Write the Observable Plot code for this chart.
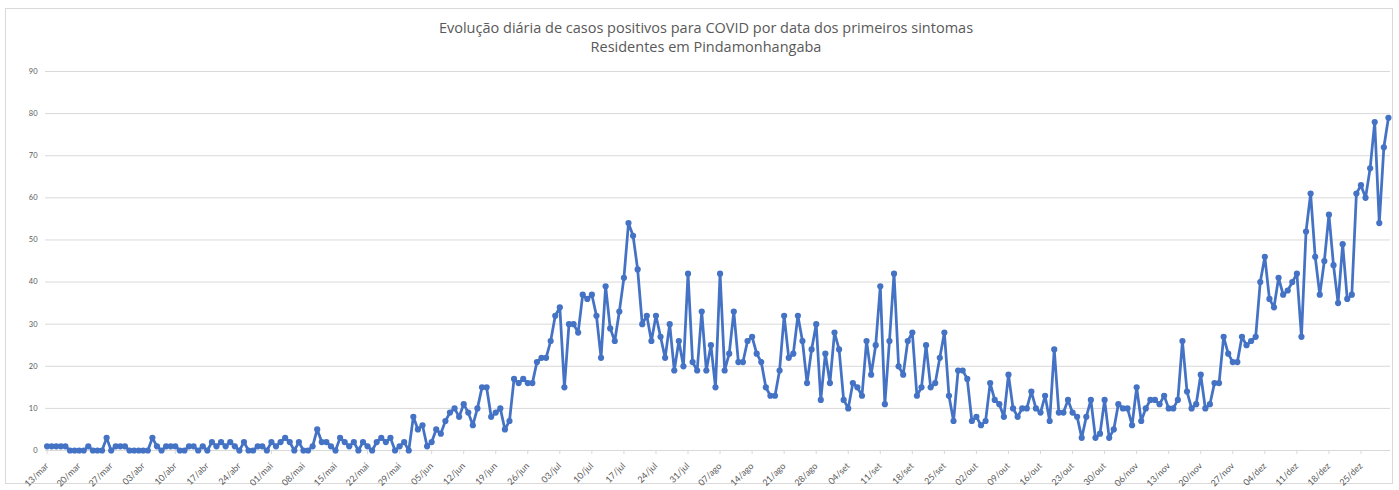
<!DOCTYPE html>
<html>
<head>
<meta charset="utf-8">
<script src="https://cdn.jsdelivr.net/npm/d3@7"></script>
<script src="https://cdn.jsdelivr.net/npm/@observablehq/plot@0.6"></script>
<style>
  html, body { margin: 0; padding: 0; background: #fff; }
  #page { position: relative; width: 1399px; height: 490px; overflow: hidden; font-family: Lato, "Open Sans", sans-serif; }
  #frame { position: absolute; left: 5px; top: 8px; width: 1388px; height: 476px; border: 1px solid #d9d9d9; box-sizing: border-box; }
  .title { position: absolute; left: 0; width: 1412px; text-align: center; color: #595959; font-family: "Open Sans", sans-serif; font-size: 14.5px; line-height: 17px; }
  #t1 { top: 19px; }
  #t2 { top: 38px; }
  #plot { position: absolute; left: 0; top: 60px; }
</style>
</head>
<body>
<div id="page">
  <div id="frame"></div>
  <div class="title" id="t1">Evolução diária de casos positivos para COVID por data dos primeiros sintomas</div>
  <div class="title" id="t2">Residentes em Pindamonhangaba</div>
  <div id="plot"></div>
</div>
<script>
// Daily positive cases by date of first symptoms, 13/mar/2020 to 31/dez/2020
const mar = [1,1,1,1,1,0,0,0,0,1,0,0,0,3,0,1,1,1,0];
const abr = [0,0,0,0,3,1,0,1,1,1,0,0,1,1,0,1,0,2,1,2,1,2,1,0,2,0,0,1,1,0];
const mai = [2,1,2,3,2,0,2,0,0,1,5,2,2,1,0,3,2,1,2,0,2,1,0,2,3,2,3,0,1,2,0];
const jun = [8,5,6,1,2,5,4,7,9,10,8,11,9,6,10,15,15,8,9,10,5,7,17,16,17,16,16,21,22,22];
const jul = [26,32,34,15,30,30,28,37,36,37,32,22,39,29,26,33,41,54,51,43,30,32,26,32,27,22,30,19,26,20,42];
const ago = [21,19,33,19,25,15,42,19,23,33,21,21,26,27,23,21,15,13,13,19,32,22,23,32,26,16,24,30,12,23,16];
const set = [28,24,12,10,16,15,13,26,18,25,39,11,26,42,20,18,26,28,13,15,25,15,16,22,28,13,7,19,19,17];
const out = [7,8,6,7,16,12,11,8,18,10,8,10,10,14,10,9,13,7,24,9,9,12,9,8,3,8,12,3,4,12,3];
const nov = [5,11,10,10,6,15,7,10,12,12,11,13,10,10,12,26,14,10,11,18,10,11,16,16,27,23,21,21,27,25];
const dez = [26,27,40,46,36,34,41,37,38,40,42,27,52,61,46,37,45,56,44,35,49,36,37,61,63,60,67,78,54,72,79];

const tickLabels = ["13/mar","20/mar","27/mar","03/abr","10/abr","17/abr","24/abr","01/mai","08/mai","15/mai","22/mai","29/mai",
  "05/jun","12/jun","19/jun","26/jun","03/jul","10/jul","17/jul","24/jul","31/jul","07/ago","14/ago","21/ago","28/ago",
  "04/set","11/set","18/set","25/set","02/out","09/out","16/out","23/out","30/out","06/nov","13/nov","20/nov","27/nov",
  "04/dez","11/dez","18/dez","25/dez"];
const yTicks = [0,10,20,30,40,50,60,70,80,90];

const DAY = 864e5;
const start = Date.UTC(2020, 2, 13);
const values = [mar, abr, mai, jun, jul, ago, set, out, nov, dez].flat();
const data = values.map((v, i) => ({date: new Date(start + i * DAY), casos: v}));
const xTicks = tickLabels.map((_, i) => new Date(start + 7 * i * DAY));
const labelOf = d => tickLabels[Math.round((d - start) / (7 * DAY))];

const blue = "#4472C4";
const chart = Plot.plot({
  width: 1399,
  height: 430,
  marginLeft: 45,
  marginRight: 9,
  marginTop: 11,
  marginBottom: 40,
  style: {fontFamily: "Lato, 'Open Sans', sans-serif", color: "#595959", background: "transparent"},
  x: {type: "utc", domain: [new Date(start - 0.35 * DAY), new Date(start + 293.45 * DAY)]},
  y: {domain: [0, 90]},
  marks: [
    Plot.gridY(yTicks, {stroke: "#d9d9d9", strokeOpacity: 1, strokeWidth: 1}),
    Plot.axisY(yTicks, {tickSize: 0, tickPadding: 8, fontSize: 7.5, fill: "#595959", label: null}),
    Plot.axisX(xTicks, {tickSize: 4, stroke: "#d9d9d9", tickRotate: -45, tickPadding: 10, fontSize: 9, fill: "#595959", tickFormat: labelOf, label: null}),
    Plot.line(data, {x: "date", y: "casos", stroke: blue, strokeWidth: 2.75}),
    Plot.dot(data, {x: "date", y: "casos", r: 3.1, fill: blue, stroke: "none"})
  ]
});
document.getElementById("plot").appendChild(chart);
</script>
</body>
</html>
